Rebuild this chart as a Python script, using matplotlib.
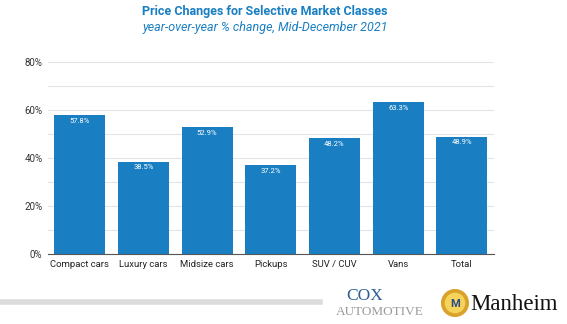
import matplotlib
matplotlib.use("Agg")
import matplotlib.pyplot as plt
from matplotlib.patches import Circle

categories = ["Compact cars", "Luxury cars", "Midsize cars", "Pickups", "SUV / CUV", "Vans", "Total"]
values = [57.8, 38.5, 52.9, 37.2, 48.2, 63.3, 48.9]
yticks = [0, 20, 40, 60, 80]

plt.rcParams['font.family'] = ['Roboto', 'DejaVu Sans']

W, H = 567, 324
fig = plt.figure(figsize=(W / 100, H / 100), dpi=100)
ax = fig.add_axes([0.0847, 0.216, 0.786, 0.593])

blue = "#1a7fc2"
ax.bar(range(len(categories)), values, width=0.8, color=blue, zorder=3)
for i, v in enumerate(values):
    ax.text(i, v - 1.2, f"{v}%", ha="center", va="top", color="white", fontsize=5.5, zorder=4)

ax.set_xlim(-0.5, len(categories) - 0.5)
ax.set_ylim(0, 80)
ax.set_yticks(yticks)
ax.set_yticklabels([f"{t}%" for t in yticks], fontsize=7, color="#333333")
ax.set_yticks(range(10, 80, 20), minor=True)
ax.set_xticks(range(len(categories)))
ax.set_xticklabels(categories, fontsize=6.8, color="#222222")
ax.grid(axis="y", which="both", color="#e3e3e3", linewidth=0.8, zorder=0)
ax.tick_params(axis="both", which="both", length=0, pad=4)
for s in ["top", "right", "left"]:
    ax.spines[s].set_visible(False)
ax.spines["bottom"].set_color("#555555")
ax.spines["bottom"].set_linewidth(0.8)

fig.text(265 / W, 1 - 12 / H, "Price Changes for Selective Market Classes", ha="center", va="center",
         fontsize=9, fontweight="bold", color=blue)
fig.text(265 / W, 1 - 27 / H, "year-over-year % change, Mid-December 2021", ha="center", va="center",
         fontsize=9, style="italic", color=blue)

# footer bar
fig.add_artist(plt.Line2D([0, 320 / W], [1 - 302 / H, 1 - 302 / H], color="#dcdcdc", linewidth=4))

# Cox Automotive text logo
fig.text(365 / W, 1 - 296 / H, "COX", ha="center", va="center", fontsize=12.5,
         family="Liberation Serif", color="#2a5d95")
fig.text(380 / W, 1 - 312 / H, "AUTOMOTIVE", ha="center", va="center", fontsize=9.5,
         family="Liberation Serif", color="#9a9a9a")

# Manheim logo
lax = fig.add_axes([441 / W, 1 - 317 / H, 28 / W, 28 / H])
lax.set_aspect("equal")
lax.axis("off")
lax.add_patch(Circle((0, 0), 1, color="#d9a22a"))
lax.add_patch(Circle((0, 0), 0.72, color="#f6d35a"))
lax.text(0, -0.05, "M", ha="center", va="center", fontsize=8, fontweight="bold", color="#2a4b8d")
lax.set_xlim(-1.05, 1.05)
lax.set_ylim(-1.05, 1.05)
fig.text(470 / W, 1 - 304 / H, "Manheim", ha="left", va="center", fontsize=16.5,
         family="Liberation Serif", color="#111111")

fig.savefig("out.png", dpi=100)
